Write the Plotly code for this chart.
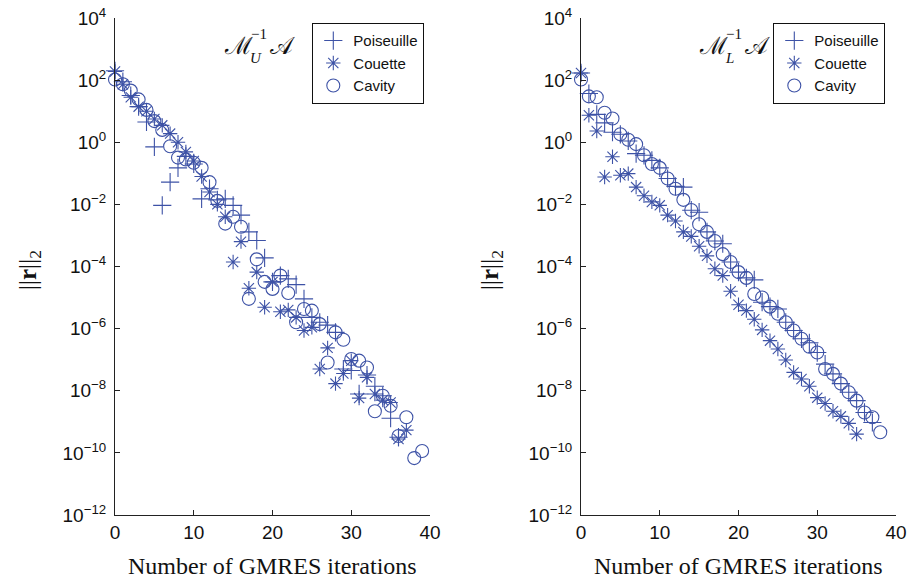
import plotly.graph_objects as go

# ---------------- data (residual norms) ----------------
left_poiseuille = [2.0e2, 8.9e1, 3.2e1, 1.4e1, 4.5e0, 7.1e-1, 9.3e-3, 5.2e-2, 1.5e-1, 3.5e-1,
                   2.0e-1, 1.5e-2, 3.2e-2, 1.4e-2, 1.5e-2, 9.3e-3, 4.5e-3, 1.3e-3, 6.9e-4, 1.9e-4,
                   3.2e-5, 5.1e-5, 4.0e-5, 2.6e-5, 9.1e-6, 2.3e-6, 1.6e-6, 1.3e-6, 7.6e-7, 5.0e-8,
                   4.5e-8, 7.9e-9, 3.2e-8, 1.4e-8, 6.9e-9, 1.3e-9, 3.2e-10]
left_couette = [1.9e2, 7.4e1, 2.8e1, 1.4e1, 1.0e1, 5.6e0, 3.5e0, 1.9e0, 1.0e0, 4.9e-1,
                2.5e-1, 7.9e-2, 2.5e-2, 1.0e-2, 4.0e-3, 1.4e-4, 6.3e-4, 2.0e-5, 6.6e-5, 4.9e-6,
                3.2e-5, 3.5e-6, 4.0e-6, 2.3e-6, 8.7e-7, 1.1e-6, 5.0e-8, 2.4e-7, 1.7e-8, 3.6e-8,
                9.3e-8, 5.8e-9, 2.7e-8, 7.9e-9, 5.0e-9, 4.2e-9, 2.8e-10, 5.4e-10]
left_cavity = [1.05e2, 7.4e1, 4.6e1, 2.4e1, 1.1e1, 4.8e0, 2.5e0, 7.4e-1, 3.2e-1, 2.8e-1,
               2.2e-1, 1.5e-1, 5.2e-2, 1.3e-2, 2.4e-3, 4.0e-3, 1.9e-3, 9.1e-6, 1.7e-4, 3.2e-5,
               1.9e-5, 5.1e-5, 1.4e-5, 1.6e-6, 4.3e-6, 3.8e-6, 1.4e-6, 8.1e-8, 7.6e-7, 4.4e-7,
               1.05e-7, 9.3e-8, 5.6e-8, 2.2e-9, 6.9e-9, 3.3e-9, 3.5e-10, 1.4e-9, 6.8e-11, 1.15e-10]

right_poiseuille = [1.7e2, 3.7e1, 7.9e0, 4.2e0, 2.1e0, 1.8e0, 1.1e0, 4.3e-1, 3.8e-1, 2.6e-1,
                    1.5e-1, 6.8e-2, 3.8e-2, 3.6e-2, 6.5e-3, 5.6e-3, 1.3e-3, 6.6e-4, 5.4e-4, 1.4e-4,
                    6.6e-5, 4.3e-5, 3.7e-5, 7.1e-6, 5.1e-6, 4.3e-6, 1.6e-6, 8.7e-7, 4.7e-7, 3.5e-7,
                    1.7e-7, 7.2e-8, 3.5e-8, 1.7e-8, 8.9e-9, 4.8e-9, 2.0e-9, 9.5e-10]
right_couette = [1.7e2, 7.4e0, 2.3e0, 7.6e-2, 3.4e-1, 8.7e-2, 9.8e-2, 3.6e-2, 1.9e-2, 1.2e-2,
                 9.3e-3, 4.5e-3, 2.9e-3, 1.3e-3, 9.3e-4, 4.5e-4, 2.2e-4, 8.5e-5, 5.1e-5, 1.6e-5,
                 5.9e-6, 3.8e-6, 2.0e-6, 9.1e-7, 4.1e-7, 2.2e-7, 9.8e-8, 3.9e-8, 2.4e-8, 1.4e-8,
                 6.0e-9, 3.9e-9, 2.2e-9, 1.5e-9, 8.9e-10, 4.0e-10]
right_cavity = [1.05e2, 3.0e1, 2.8e1, 8.9e0, 5.8e0, 1.8e0, 1.2e0, 8.7e-1, 3.8e-1, 2.0e-1,
                1.5e-1, 6.8e-2, 3.2e-2, 1.4e-2, 6.6e-3, 2.3e-3, 1.3e-3, 6.6e-4, 2.5e-4, 1.4e-4,
                6.6e-5, 4.3e-5, 1.3e-5, 1.0e-5, 5.1e-6, 3.0e-6, 1.6e-6, 8.7e-7, 4.7e-7, 2.6e-7,
                1.7e-7, 5.0e-8, 3.5e-8, 1.7e-8, 8.9e-9, 4.8e-9, 2.0e-9, 1.4e-9, 4.6e-10]

series_names = ["Poiseuille", "Couette", "Cavity"]
x_tick_vals = [0, 10, 20, 30, 40]
y_tick_vals = [1e4, 1e2, 1e0, 1e-2, 1e-4, 1e-6, 1e-8, 1e-10, 1e-12]
y_tick_text = ["10<sup>4</sup>", "10<sup>2</sup>", "10<sup>0</sup>", "10<sup>\u22122</sup>",
               "10<sup>\u22124</sup>", "10<sup>\u22126</sup>", "10<sup>\u22128</sup>",
               "10<sup>\u221210</sup>", "10<sup>\u221212</sup>"]
x_title = "Number of GMRES iterations"

# ---------------- styling ----------------
W, H = 911, 583
BLUE = "#3d52a6"
SANS = "Liberation Sans, Arial, sans-serif"
SERIF = "Liberation Serif, DejaVu Serif, serif"
symbols = {"Poiseuille": "cross-thin-open", "Couette": "asterisk-open", "Cavity": "circle-open"}
sizes = {"Poiseuille": 13, "Couette": 12, "Cavity": 13}

fig = go.Figure()

panels = [
    ("x", "y", "legend", [left_poiseuille, left_couette, left_cavity]),
    ("x2", "y2", "legend2", [right_poiseuille, right_couette, right_cavity]),
]
for xa, ya, leg, data in panels:
    for name, vals in zip(series_names, data):
        fig.add_trace(go.Scatter(
            x=list(range(len(vals))), y=vals, mode="markers", name=name,
            xaxis=xa, yaxis=ya, legend=leg, cliponaxis=False,
            marker=dict(symbol=symbols[name], size=sizes[name], color=BLUE,
                        line=dict(color=BLUE, width=1.1)),
        ))

y_dom = [1 - 515 / H, 1 - 18 / H]
axis_common = dict(showline=True, linecolor="#222", linewidth=1, showgrid=False, zeroline=False,
                   ticks="inside", ticklen=5, tickcolor="#222", automargin=False,
                   tickfont=dict(family=SANS, size=19, color="#111"))
legend_common = dict(xanchor="right", yanchor="top", bordercolor="#111", borderwidth=1.3,
                     bgcolor="white", font=dict(family=SANS, size=15, color="#111"),
                     tracegroupgap=0)
fig.update_layout(
    width=W, height=H, margin=dict(l=0, r=0, t=0, b=0, autoexpand=False),
    paper_bgcolor="white", plot_bgcolor="white",
    xaxis=dict(domain=[115 / W, 430 / W], range=[0, 40], tickvals=x_tick_vals, anchor="y", **axis_common),
    yaxis=dict(domain=y_dom, type="log", range=[-12, 4], tickvals=y_tick_vals, ticktext=y_tick_text,
               anchor="x", ticklabelstandoff=4, **axis_common),
    xaxis2=dict(domain=[581 / W, 896 / W], range=[0, 40], tickvals=x_tick_vals, anchor="y2", **axis_common),
    yaxis2=dict(domain=y_dom, type="log", range=[-12, 4], tickvals=y_tick_vals, ticktext=y_tick_text,
                anchor="x2", ticklabelstandoff=4, **axis_common),
    legend=dict(x=424 / W, y=1 - 23 / H, **legend_common),
    legend2=dict(x=885 / W, y=1 - 23 / H, **legend_common),
    showlegend=True,
)

ann = []
for cx in [272, 738]:
    ann.append(dict(text=x_title, x=cx / W, y=1 - 566 / H, xref="paper", yref="paper",
                    xanchor="center", yanchor="middle",
                    showarrow=False, font=dict(family=SERIF, size=24, color="#111")))
for cx in [29, 491]:
    ann.append(dict(text="||<b>r</b>||<sub>2</sub>", x=cx / W, y=1 - 270 / H, xref="paper", yref="paper",
                    xanchor="center", yanchor="middle",
                    showarrow=False, textangle=-90, font=dict(family=SERIF, size=25, color="#111")))
for x0, sub in [(222, "U"), (697, "L")]:
    ann.append(dict(text="\u2133", x=x0 / W, y=1 - 46 / H, xref="paper", yref="paper", xanchor="left",
                    yanchor="middle",
                    showarrow=False, font=dict(family="DejaVu Serif, serif", size=24, color="#111")))
    ann.append(dict(text="\u22121", x=(x0 + 27) / W, y=1 - 34 / H, xref="paper", yref="paper", xanchor="left",
                    yanchor="middle",
                    showarrow=False, font=dict(family=SERIF, size=15, color="#111")))
    ann.append(dict(text="<i>%s</i>" % sub, x=(x0 + 26) / W, y=1 - 58 / H, xref="paper", yref="paper",
                    xanchor="left", yanchor="middle", showarrow=False,
                    font=dict(family=SERIF, size=15, color="#111")))
    ann.append(dict(text="\U0001D49C", x=(x0 + 46) / W, y=1 - 46 / H, xref="paper", yref="paper", xanchor="left",
                    yanchor="middle",
                    showarrow=False, font=dict(family="DejaVu Serif, serif", size=24, color="#111")))
fig.update_layout(annotations=ann)

fig.write_html("out.html", config={"displayModeBar": False},
               post_script="document.body.style.margin='0';document.body.style.padding='0';")
